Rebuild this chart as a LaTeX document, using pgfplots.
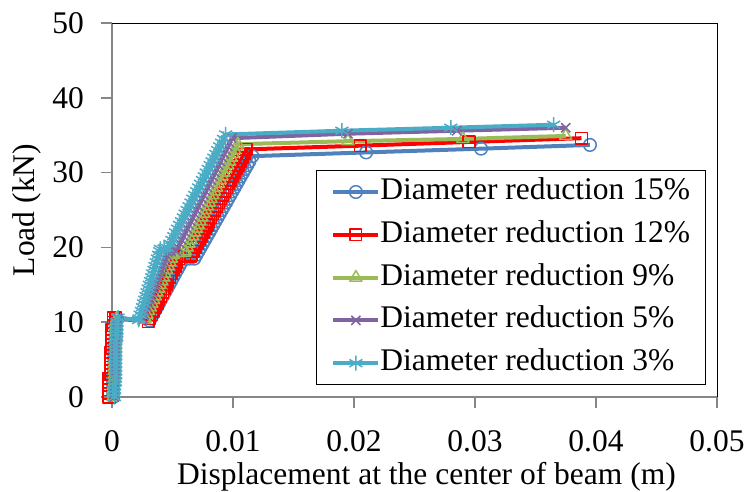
\documentclass[border=0pt]{standalone}
\usepackage{pgfplots}
\pgfplotsset{compat=1.18}
\usepackage{fontspec}
\setmainfont{Liberation Serif}
\definecolor{cBlue}{HTML}{4F81BD}
\definecolor{cRed}{HTML}{FF0000}
\definecolor{cGreen}{HTML}{9BBB59}
\definecolor{cPurple}{HTML}{8064A2}
\definecolor{cCyan}{HTML}{4BACC6}
\definecolor{axgray}{HTML}{868686}
\newcommand{\bigfont}{\fontsize{31.5}{37}\selectfont}
\begin{document}
\begin{tikzpicture}
\begin{axis}[
  at={(0,0)}, anchor=south west,
  scale only axis, width=605pt, height=374pt,
  xmin=0, xmax=0.05, ymin=0, ymax=50,
  clip=false, scaled x ticks=false, scaled y ticks=false,
  axis x line*=bottom, axis y line*=left,
  axis line style={axgray, line width=1.5pt},
  every tick/.style={axgray, line width=1.5pt},
  tick align=outside, major tick length=11pt,
  xtick={0,0.01,0.02,0.03,0.04,0.05},
  xticklabels={0,0.01,0.02,0.03,0.04,0.05},
  ytick={0,10,20,30,40,50},
  yticklabels={0,10,20,30,40,50},
  ticklabel style={font=\bigfont},
  yticklabel style={anchor=east, inner sep=0pt, xshift=-17pt},
  xticklabel style={anchor=north, inner sep=0pt, yshift=-22pt},
  every axis x label/.style={at={(rel axis cs:0.5,0)}, anchor=base, yshift=-87pt, xshift=12pt, font=\bigfont},
  every axis y label/.style={at={(rel axis cs:0,0.5)}, anchor=center, rotate=90, yshift=85pt, font=\bigfont},
  xlabel={Displacement at the center of beam (m)},
  ylabel={Load (kN)},
  legend cell align=left,
  legend style={at={(rel axis cs:0.337,0.607)}, anchor=north west, draw=black, line width=1pt,
    font=\bigfont, inner xsep=15pt, inner ysep=6pt, row sep=11.8pt, column sep=0pt,
    nodes={inner sep=0pt, text height=23pt, text depth=8pt}},
  legend image code/.code={\draw[#1, mark repeat=2, mark phase=2] plot coordinates {(0pt,0pt) (22.5pt,0pt) (45pt,0pt)};},
  every axis plot/.append style={line width=4pt, line join=round},
]
\addplot[cBlue, mark=o, mark size=6.3pt, mark options={line width=1.5pt}] coordinates {
(0.0001,0)(0.0001,0.5)(0.0001,1)(0.0001,1.5)(0.0001,2)(0.0001,2.5)(0.0001,3)(0.0002,3.5)(0.0002,4)(0.0002,4.5)(0.0002,5)(0.0002,5.5)(0.0002,6)(0.0002,6.5)(0.0002,7)(0.0003,7.5)(0.0003,8)(0.0003,8.5)(0.0003,9)(0.0003,9.5)(0.0003,10)(0.0004,10.4)
(0.0031,10.2)
(0.0032,10.5)(0.00337,11)(0.00354,11.5)(0.00371,12)(0.00388,12.5)(0.00404,13)(0.00421,13.5)(0.00438,14)(0.00455,14.5)(0.00472,15)(0.00489,15.5)(0.00505,16)(0.00522,16.5)(0.00539,17)(0.00556,17.5)(0.00573,18)(0.0059,18.5)
(0.0064,18.5)(0.0068,18.5)
(0.00698,19)(0.00715,19.5)(0.00733,20)(0.0075,20.5)(0.00768,21)(0.00785,21.5)(0.00803,22)(0.0082,22.5)(0.00838,23)(0.00855,23.5)(0.00873,24)(0.0089,24.5)(0.00908,25)(0.00925,25.5)(0.00943,26)(0.0096,26.5)(0.00978,27)(0.00995,27.5)(0.01013,28)(0.0103,28.5)(0.01048,29)(0.01065,29.5)(0.01083,30)(0.011,30.5)(0.01118,31)(0.01135,31.5)(0.0116,32.2)
(0.021,32.7)(0.0305,33.2)(0.0395,33.7)
};
\addlegendentry{Diameter reduction 15\%}
\addplot[cRed, mark=square, mark size=5.8pt, mark options={line width=1.5pt}] coordinates {
(-0.00025,0)(-0.00025,0.5)(-0.00025,1)(-0.00025,1.5)(-0.00025,2)(-0.00025,2.5)(-0.0001,3)(-0.0001,3.5)(-0.0001,4)(-0.0001,4.5)(-0.0001,5)(-0.0001,5.5)(-0.0001,6)(0,6.5)(0,7)(0,7.5)(0,8)(0,8.5)(0,9)(0.0001,9.5)(0.0001,10)(0.0001,10.6)(0.0003,10.6)
(0.0030,10.1)
(0.00312,10.5)(0.00327,11)(0.00342,11.5)(0.00357,12)(0.00372,12.5)(0.00387,13)(0.00402,13.5)(0.00417,14)(0.00432,14.5)(0.00447,15)(0.00461,15.5)(0.00476,16)(0.00491,16.5)(0.00506,17)(0.00521,17.5)(0.00536,18)(0.00551,18.5)(0.0056,18.8)
(0.006,18.8)(0.0065,18.8)
(0.00656,19)(0.00673,19.5)(0.00689,20)(0.00705,20.5)(0.00721,21)(0.00737,21.5)(0.00753,22)(0.00769,22.5)(0.00785,23)(0.00801,23.5)(0.00817,24)(0.00834,24.5)(0.0085,25)(0.00866,25.5)(0.00882,26)(0.00898,26.5)(0.00914,27)(0.0093,27.5)(0.00946,28)(0.00962,28.5)(0.00978,29)(0.00994,29.5)(0.0101,30)(0.01026,30.5)(0.01043,31)(0.01059,31.5)(0.01075,32)(0.01091,32.5)(0.0111,33.1)
(0.0205,33.6)(0.0295,34.1)(0.0388,34.6)
};
\addlegendentry{Diameter reduction 12\%}
\addplot[cGreen, mark=triangle, mark size=7pt, mark options={line width=1.5pt}] coordinates {
(0.0001,0)(0.0001,0.5)(0.0001,1)(0.0001,1.5)(0.0002,2)(0.0002,2.5)(0.0002,3)(0.0002,3.5)(0.0002,4)(0.0002,4.5)(0.0002,5)(0.0003,5.5)(0.0003,6)(0.0003,6.5)(0.0003,7)(0.0003,7.5)(0.0003,8)(0.0003,8.5)(0.0003,9)(0.0003,9.5)(0.0003,10)(0.0004,10.5)
(0.0027,10.3)
(0.00275,10.5)(0.00289,11)(0.00302,11.5)(0.00316,12)(0.00329,12.5)(0.00343,13)(0.00356,13.5)(0.0037,14)(0.00383,14.5)(0.00397,15)(0.0041,15.5)(0.00424,16)(0.00437,16.5)(0.00451,17)(0.00464,17.5)(0.00478,18)(0.00491,18.5)(0.00505,19)(0.0051,19.2)
(0.00555,19.25)(0.006,19.3)
(0.00606,19.5)(0.00621,20)(0.00636,20.5)(0.00652,21)(0.00667,21.5)(0.00682,22)(0.00697,22.5)(0.00712,23)(0.00727,23.5)(0.00742,24)(0.00758,24.5)(0.00773,25)(0.00788,25.5)(0.00803,26)(0.00818,26.5)(0.00833,27)(0.00848,27.5)(0.00864,28)(0.00879,28.5)(0.00894,29)(0.00909,29.5)(0.00924,30)(0.00939,30.5)(0.00955,31)(0.0097,31.5)(0.00985,32)(0.01,32.5)(0.01015,33)(0.0103,33.5)(0.0104,33.8)
(0.0195,34.2)(0.029,34.5)(0.0375,34.9)
};
\addlegendentry{Diameter reduction 9\%}
\addplot[cPurple, mark=x, mark size=6.5pt, mark options={line width=1.5pt}] coordinates {
(0.0002,0)(0.0002,0.5)(0.0002,1)(0.0002,1.5)(0.0002,2)(0.0002,2.5)(0.0002,3)(0.0003,3.5)(0.0003,4)(0.0003,4.5)(0.0003,5)(0.0003,5.5)(0.0003,6)(0.0003,6.5)(0.0003,7)(0.0003,7.5)(0.0003,8)(0.0004,8.5)(0.0004,9)(0.0004,9.5)(0.0004,10)(0.0005,10.5)
(0.0025,10.3)
(0.00255,10.5)(0.00266,11)(0.00278,11.5)(0.00289,12)(0.00301,12.5)(0.00312,13)(0.00324,13.5)(0.00335,14)(0.00347,14.5)(0.00359,15)(0.0037,15.5)(0.00382,16)(0.00393,16.5)(0.00405,17)(0.00416,17.5)(0.00428,18)(0.00439,18.5)(0.00451,19)(0.0046,19.4)
(0.0049,19.45)(0.0053,19.5)
(0.00545,20)(0.00561,20.5)(0.00576,21)(0.00591,21.5)(0.00606,22)(0.00622,22.5)(0.00637,23)(0.00652,23.5)(0.00667,24)(0.00683,24.5)(0.00698,25)(0.00713,25.5)(0.00728,26)(0.00744,26.5)(0.00759,27)(0.00774,27.5)(0.00789,28)(0.00805,28.5)(0.0082,29)(0.00835,29.5)(0.0085,30)(0.00866,30.5)(0.00881,31)(0.00896,31.5)(0.00911,32)(0.00927,32.5)(0.00942,33)(0.00957,33.5)(0.00972,34)(0.0099,34.6)
(0.0195,35.2)(0.0285,35.6)(0.0375,36.0)
};
\addlegendentry{Diameter reduction 5\%}
\addplot[cCyan, mark=asterisk, mark size=7.5pt, mark options={line width=1.5pt}] coordinates {
(0.0002,0)(0.0002,0.5)(0.0002,1)(0.0002,1.5)(0.0003,2)(0.0003,2.5)(0.0003,3)(0.0003,3.5)(0.0003,4)(0.0003,4.5)(0.0003,5)(0.0003,5.5)(0.0003,6)(0.0003,6.5)(0.0003,7)(0.0003,7.5)(0.0004,8)(0.0004,8.5)(0.0004,9)(0.0004,9.5)(0.0004,10)(0.0005,10.6)
(0.0022,10.3)
(0.00224,10.5)(0.00233,11)(0.00243,11.5)(0.00252,12)(0.00262,12.5)(0.00271,13)(0.0028,13.5)(0.0029,14)(0.00299,14.5)(0.00309,15)(0.00318,15.5)(0.00328,16)(0.00337,16.5)(0.00347,17)(0.00356,17.5)(0.00366,18)(0.00375,18.5)(0.00385,19)(0.00394,19.5)(0.004,19.8)
(0.0043,19.85)(0.0046,19.9)
(0.00479,20.5)(0.00495,21)(0.00511,21.5)(0.00526,22)(0.00542,22.5)(0.00558,23)(0.00574,23.5)(0.0059,24)(0.00605,24.5)(0.00621,25)(0.00637,25.5)(0.00653,26)(0.00669,26.5)(0.00684,27)(0.007,27.5)(0.00716,28)(0.00732,28.5)(0.00748,29)(0.00763,29.5)(0.00779,30)(0.00795,30.5)(0.00811,31)(0.00827,31.5)(0.00842,32)(0.00858,32.5)(0.00874,33)(0.0089,33.5)(0.00906,34)(0.00921,34.5)(0.0094,35.1)
(0.019,35.6)(0.028,36.0)(0.0365,36.4)
};
\addlegendentry{Diameter reduction 3\%}
\draw[black, line width=1pt] (rel axis cs:0,1) -- (rel axis cs:1,1) -- (rel axis cs:1,0);
\end{axis}
\pgfresetboundingbox
\path[use as bounding box] (-112pt,-94pt) rectangle (634pt,397pt);
\end{tikzpicture}
\end{document}
